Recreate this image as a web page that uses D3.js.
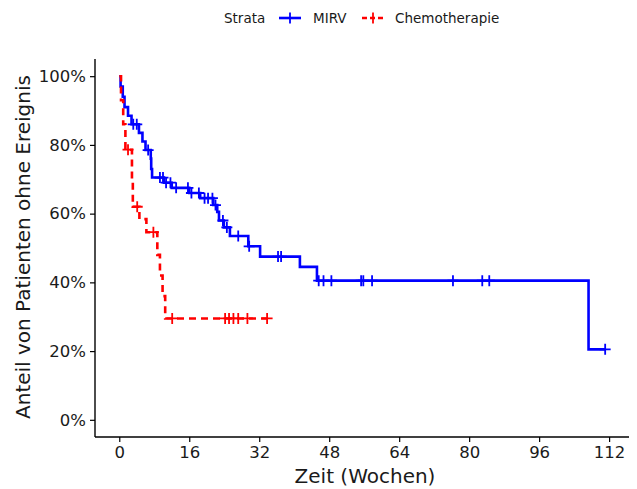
<!DOCTYPE html>
<html><head><meta charset="utf-8">
<script src="https://cdn.jsdelivr.net/npm/d3@7"></script>
<style>body{margin:0;background:#fff}</style>
</head><body><svg id="c" width="637" height="489"></svg>
<script>
const strataNames = ["MIRV", "Chemotherapie"];
const strataColors = ["#0000FF", "#FF0000"];

// MIRV: event times and survival after each event
const mirvTime = [0, 0.3, 0.8, 1.2, 2.0, 2.8, 4.5, 5.3, 6.0, 7.2, 7.3, 7.5, 10.2, 12.0, 16.0, 18.5, 21.5, 22.4, 22.8, 23.9, 25.3, 29.5, 32.2, 41.3, 45.2, 107.3];
const mirvSurv = [1, 0.97, 0.94, 0.91, 0.885, 0.86, 0.835, 0.81, 0.785, 0.76, 0.73, 0.705, 0.69, 0.675, 0.66, 0.645, 0.625, 0.605, 0.58, 0.56, 0.535, 0.505, 0.475, 0.445, 0.405, 0.205];
const mirvCensor = [3.2, 4.0, 6.6, 9.3, 10.0, 10.7, 11.7, 13.0, 15.7, 16.5, 18.2, 19.5, 20.3, 21.3, 22.0, 23.7, 24.6, 27.2, 29.7, 36.3, 37.0, 45.6, 46.7, 48.5, 55.3, 55.8, 57.8, 76.3, 83.0, 84.6, 111.1];

// Chemotherapie
const chemoTime = [0, 0.4, 0.9, 1.4, 2.9, 3.1, 4.6, 6.2, 8.7, 9.3, 9.9, 10.5];
const chemoSurv = [1, 0.93, 0.86, 0.786, 0.70, 0.62, 0.584, 0.546, 0.48, 0.42, 0.36, 0.295];
const chemoCensor = [2.0, 4.1, 7.8, 12.1, 24.2, 25.1, 26.1, 27.2, 29.3, 33.8];

const xTicks = [0, 16, 32, 48, 64, 80, 96, 112];
const yTicks = [0, 0.2, 0.4, 0.6, 0.8, 1.0];
const xTitle = "Zeit (Wochen)";
const yTitle = "Anteil von Patienten ohne Ereignis";
const legendTitle = "Strata";

const svg = d3.select("#c");
const font = "DejaVu Sans, Verdana, sans-serif";
const L = 95, R = 629, T = 59, B = 437;
const x = d3.scaleLinear().domain([-5.55, 116.55]).range([L, R]);
const y = d3.scaleLinear().domain([-0.05, 1.05]).range([B, T]);

function survAt(times, surv, t) {
  let s = 1;
  for (let i = 0; i < times.length; i++) if (times[i] <= t) s = surv[i];
  return s;
}

const series = [
  {name: strataNames[0], color: strataColors[0], times: mirvTime, surv: mirvSurv, censor: mirvCensor, dash: null},
  {name: strataNames[1], color: strataColors[1], times: chemoTime, surv: chemoSurv, censor: chemoCensor, dash: "7,5"}
];

const line = d3.line().x(d => x(d[0])).y(d => y(d[1])).curve(d3.curveStepAfter);

series.forEach(s => {
  const pts = s.times.map((t, i) => [t, s.surv[i]]);
  const tEnd = d3.max(s.censor.concat(s.times));
  pts.push([tEnd, survAt(s.times, s.surv, tEnd)]);
  svg.append("path").attr("d", line(pts)).attr("fill", "none")
    .attr("stroke", s.color).attr("stroke-width", 2.6)
    .attr("stroke-dasharray", s.dash);
  const g = svg.append("g");
  s.censor.forEach(c => {
    const cx = x(c), cy = y(survAt(s.times, s.surv, c));
    g.append("path").attr("d", `M${cx-5.5},${cy}H${cx+5.5}M${cx},${cy-5.5}V${cy+5.5}`)
      .attr("stroke", s.color).attr("stroke-width", 1.8).attr("fill", "none");
  });
});

// axes
const xAxis = svg.append("g").attr("transform", `translate(0,${B})`)
  .call(d3.axisBottom(x).tickValues(xTicks).tickSize(5).tickPadding(4).tickFormat(d3.format("d")));
const yAxis = svg.append("g").attr("transform", `translate(${L},0)`)
  .call(d3.axisLeft(y).tickValues(yTicks).tickSize(5).tickPadding(4).tickFormat(d3.format(".0%")));
[xAxis, yAxis].forEach(a => {
  a.select(".domain").attr("stroke", "#000").attr("stroke-width", 1.4);
  a.selectAll(".tick line").attr("stroke", "#000").attr("stroke-width", 1.2);
  a.selectAll("text").attr("font-family", font).attr("font-size", 16.5).attr("fill", "#1a1a1a");
});
xAxis.select(".domain").attr("d", `M${L},0H${R}`);
yAxis.select(".domain").attr("d", `M0,${B}V${T}`);

svg.append("text").attr("x", (L + R) / 2 + 3).attr("y", 483).attr("text-anchor", "middle")
  .attr("font-family", font).attr("font-size", 20).attr("fill", "#1a1a1a").text(xTitle);
svg.append("text").attr("transform", `translate(30,${(T + B) / 2 - 1}) rotate(-90)`).attr("text-anchor", "middle")
  .attr("font-family", font).attr("font-size", 20).attr("fill", "#1a1a1a").text(yTitle);

// legend
const lg = svg.append("g").attr("font-family", font).attr("font-size", 13.5).attr("fill", "#1a1a1a");
lg.append("text").attr("x", 224).attr("y", 22.5).text(legendTitle);
const keyX = [279, 362], labX = [313, 395];
series.forEach((s, i) => {
  const cx = keyX[i] + 11;
  lg.append("path").attr("d", `M${keyX[i]},18H${keyX[i]+22}`).attr("stroke", s.color).attr("stroke-width", 2.6)
    .attr("stroke-dasharray", s.dash ? "5,3" : null);
  lg.append("path").attr("d", `M${cx},12.5V23.5`).attr("stroke", s.color).attr("stroke-width", 1.8);
  lg.append("text").attr("x", labX[i]).attr("y", 22.5).text(s.name);
});
</script></body></html>
